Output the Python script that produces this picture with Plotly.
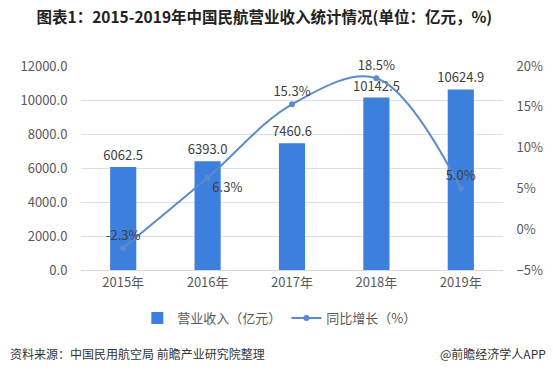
import plotly.graph_objects as go

years = ["2015年", "2016年", "2017年", "2018年", "2019年"]
revenue = [6062.5, 6393.0, 7460.6, 10142.5, 10624.9]
growth = [-2.3, 6.3, 15.3, 18.5, 5.0]
growth_pos = ["top center", "bottom right", "top center", "top center", "top center"]

FONT = "Noto Sans CJK SC"
BAR = "#3D7FDC"
LINE = "#5B8BCB"
TICK = "#595959"

fig = go.Figure()
fig.add_trace(go.Bar(
    x=years, y=revenue, name="营业收入（亿元）",
    marker=dict(color=BAR, line=dict(width=0)), width=0.31,
    text=[f"{v:.1f}" for v in revenue], textposition="outside",
    textfont=dict(family=FONT, size=13, color="#404040"),
    constraintext="none", cliponaxis=False,
))
fig.add_trace(go.Scatter(
    x=years, y=growth, name="同比增长（%）", yaxis="y2",
    mode="lines+markers+text",
    line=dict(color=LINE, width=2, shape="spline", smoothing=1.0),
    marker=dict(color=LINE, size=6),
    text=[f"{v:.1f}%" for v in growth], textposition=growth_pos,
    textfont=dict(family=FONT, size=13, color="#404040"),
    cliponaxis=False,
))

fig.update_layout(
    width=553, height=377,
    paper_bgcolor="white", plot_bgcolor="white",
    margin=dict(l=81, r=50, t=66, b=107, autoexpand=False),
    font=dict(family=FONT, size=13, color=TICK),
    title=dict(text="<b>图表1：2015-2019年中国民航营业收入统计情况(单位：亿元，%)</b>",
               x=0.478, xanchor="center", y=1 - 18 / 377, yanchor="middle",
               font=dict(family=FONT, size=15.5, color="#222222")),
    xaxis=dict(showgrid=False, showline=True, linecolor="#D9D9D9", linewidth=1,
               ticks="", automargin=False, tickfont=dict(size=13, color=TICK)),
    yaxis=dict(range=[0, 12000], dtick=2000, tickformat=".1f", automargin=False,
               showgrid=True, gridcolor="#E0E0E0", gridwidth=1, zeroline=False,
               ticks="outside", ticklen=10, tickcolor="rgba(0,0,0,0)",
               tickfont=dict(size=13, color=TICK)),
    yaxis2=dict(range=[-5, 20], dtick=5, ticksuffix="%", overlaying="y", side="right",
                showgrid=False, zeroline=False, automargin=False,
                ticks="outside", ticklen=10, tickcolor="rgba(0,0,0,0)",
                tickfont=dict(size=13, color=TICK)),
    legend=dict(orientation="h", x=0.47, xanchor="center", y=-0.235, yanchor="middle",
                font=dict(size=13, color=TICK), itemwidth=30, traceorder="normal"),
    showlegend=True,
)

fig.add_annotation(text="资料来源：中国民用航空局 前瞻产业研究院整理", xref="paper", yref="paper",
                   x=(8 - 81) / 422, xanchor="left", y=(270 - 353) / 204, yanchor="middle",
                   showarrow=False, font=dict(family=FONT, size=12, color="#333333"))
fig.add_annotation(text="@前瞻经济学人APP", xref="paper", yref="paper",
                   x=(548 - 81) / 422, xanchor="right", y=(270 - 353) / 204, yanchor="middle",
                   showarrow=False, font=dict(family=FONT, size=12, color="#333333"))

fig.write_html("out.html", config={"displayModeBar": False},
               post_script="document.body.style.margin='0';")
